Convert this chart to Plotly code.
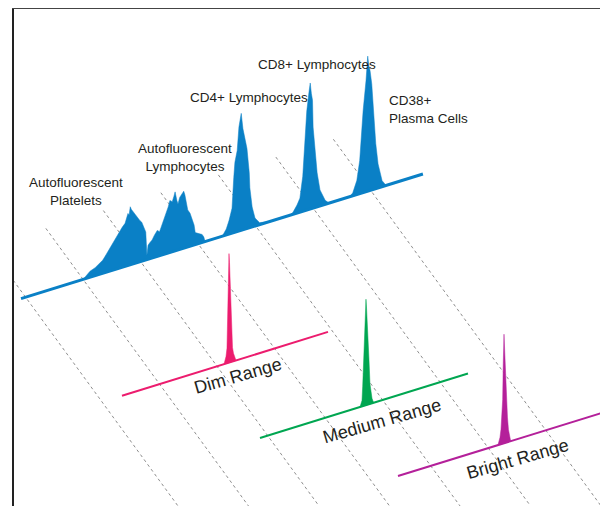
import plotly.graph_objects as go

# ---------------- data (channel positions, relative counts) ----------------
# channels: 100 channels per guide-line interval; counts: relative event counts
BLUE_CH = [100, 105, 112, 121, 129, 134, 138, 143, 147, 151, 155, 160, 164, 168, 173, 176, 178, 180, 182, 184, 185, 188,
           190, 193, 195, 199, 202, 204, 206, 208, 209, 211,
           213, 216, 220, 224, 229, 233, 237, 241, 244, 248, 251, 255, 258, 260, 263, 265, 268, 272, 275, 277, 280,
           282, 286, 289, 293, 295, 298, 303, 307, 310, 312,
           342, 346, 349, 354, 359, 362, 364, 368, 371, 375, 378, 382, 385, 389, 390, 394, 399, 407, 425,
           460, 465, 472, 477, 482, 486, 489, 493, 495, 497, 499, 500, 503, 507, 512, 521, 528,
           564, 569, 576, 581, 587, 592, 595, 597, 599, 602, 606, 609, 613, 620, 627]
BLUE_COUNTS = [0, 3, 6, 8, 11, 13, 16, 20, 23, 27, 30, 33, 36, 40, 43, 48, 52, 50, 58, 55, 54, 51,
               50, 46, 44, 41, 39, 36, 33, 31, 28, 4,
               14, 16, 18, 22, 26, 24, 30, 34, 40, 46, 52, 50, 55, 59, 50, 46, 52, 55, 57, 53, 45,
               37, 33, 28, 20, 12, 11, 10, 8, 5, 0,
               0, 3, 6, 14, 25, 55, 70, 81, 104, 117, 101, 89, 80, 55, 40, 20, 8, 2, 0,
               0, 2, 8, 14, 35, 70, 99, 118, 126, 115, 108, 81, 57, 34, 16, 4, 0,
               0, 3, 14, 33, 82, 111, 135, 125, 120, 106, 74, 45, 24, 6, 0]

DIM_CH = [211.8, 213.5, 215.3, 217.0, 218.2, 219.6, 220.5, 221.4, 223.5, 224.9, 226.6, 228.3, 230.1, 231.8, 232.7]
DIM_COUNTS = [0, 3, 7, 15, 60, 100, 109, 100, 60, 25, 14, 8, 4, 1.5, 0]

MED_CH = [360.5, 362.2, 364.0, 365.2, 367.1, 368.5, 370.1, 370.9, 371.8, 373.5, 374.9, 376.1, 377.9, 379.6, 381.4, 383.1, 384.8]
MED_COUNTS = [0, 2, 6, 20, 50, 80, 100, 106, 98, 80, 66, 45, 20, 10, 5, 2, 0]

BRIGHT_CH = [516.8, 518.6, 520.3, 522.1, 523.8, 525.0, 526.0, 527.3, 528.3, 529.9, 531.9, 533.3, 535.1, 536.8, 538.6, 539.4]
BRIGHT_COUNTS = [0, 3, 7, 15, 30, 44, 80, 109, 95, 70, 44, 25, 12, 5, 1, 0]

GUIDE_CH = [0, 100, 200, 300, 400, 500, 600]

POP_LABELS = ["Autofluorescent<br>Platelets", "Autofluorescent<br>Lymphocytes", "CD4+ Lymphocytes",
              "CD8+ Lymphocytes", "CD38+<br>Plasma Cells"]
RANGE_LABELS = ["Dim Range", "Medium Range", "Bright Range"]

# ---------------- layout / geometry (page pixel units) ----------------
CH_DX = 0.575          # horizontal pixels per channel
SLOPE = -0.31          # baseline slope
GUIDE_DIR = (1.0, 1.37)

BLUE = "#0a80c6"
PINK = "#ec1c6e"
GREEN = "#00a651"
PURPLE = "#b4209a"
GUIDE = "#8e8e8e"
TEXT = "#231f20"

panels = {
    "blue":   dict(origin=(25.6, 297.2), span=(-8, 691), color=BLUE, lw=3),
    "dim":    dict(origin=(102.2, 401.9), span=(34.4, 392.7), color=PINK, lw=2),
    "medium": dict(origin=(152.7, 471.3), span=(186.6, 548.3), color=GREEN, lw=2),
    "bright": dict(origin=(200.8, 537.2), span=(342.9, 706.4), color=PURPLE, lw=2),
}


def to_screen(panel, ch, h=0.0):
    ox, oy = panels[panel]["origin"]
    x = ox + ch * CH_DX
    y = oy + ch * CH_DX * SLOPE - h
    return x, y


fig = go.Figure()

# guide (dashed) lines
for ch in GUIDE_CH:
    bx, by = to_screen("blue", ch)
    t0, t1 = -51.0 / GUIDE_DIR[1], 600.0 / GUIDE_DIR[1]
    fig.add_trace(go.Scatter(
        x=[bx + t0 * GUIDE_DIR[0], bx + t1 * GUIDE_DIR[0]],
        y=[by + t0 * GUIDE_DIR[1], by + t1 * GUIDE_DIR[1]],
        mode="lines", line=dict(color=GUIDE, width=1, dash="3px,3px"),
        hoverinfo="skip", showlegend=False))


def add_hist(panel, chs, counts):
    xs, ys = [], []
    for c, n in zip(chs, counts):
        x, y = to_screen(panel, c, n)
        xs.append(x)
        ys.append(y)
    for c in (chs[-1], chs[0]):
        x, y = to_screen(panel, c, 0)
        xs.append(x)
        ys.append(y)
    fig.add_trace(go.Scatter(x=xs, y=ys, mode="lines", fill="toself",
                             fillcolor=panels[panel]["color"],
                             line=dict(color=panels[panel]["color"], width=0.5),
                             hoverinfo="skip", showlegend=False))


add_hist("blue", BLUE_CH, BLUE_COUNTS)
add_hist("dim", DIM_CH, DIM_COUNTS)
add_hist("medium", MED_CH, MED_COUNTS)
add_hist("bright", BRIGHT_CH, BRIGHT_COUNTS)

# baselines
for name, p in panels.items():
    x0, y0 = to_screen(name, p["span"][0])
    x1, y1 = to_screen(name, p["span"][1])
    fig.add_trace(go.Scatter(x=[x0, x1], y=[y0, y1], mode="lines",
                             line=dict(color=p["color"], width=p["lw"]),
                             hoverinfo="skip", showlegend=False))

regular = "Liberation Sans, Arial, sans-serif"

pop_pos = [(76, 191.5, "center"), (185, 157.5, "center"), (249, 97, "center"),
           (316.5, 64, "center"), (387, 109.5, "left")]
for label, (x, y, al) in zip(POP_LABELS, pop_pos):
    fig.add_annotation(x=x, y=y, xref="x", yref="y", text=label, showarrow=False,
                       xanchor=al, yanchor="middle", align=al,
                       font=dict(family=regular, size=13.5, color=TEXT))

range_pos = [(237.7, 376.4), (381.8, 421.1), (517.5, 458.7)]
for label, (x, y) in zip(RANGE_LABELS, range_pos):
    fig.add_annotation(x=x, y=y, xref="x", yref="y", text=label, showarrow=False,
                       xanchor="center", yanchor="middle", textangle=-16,
                       font=dict(family=regular, size=18, color=TEXT))

# page body has an 8px margin: the figure is placed so that axis units equal page pixels
fig.update_layout(
    width=600, height=498,
    margin=dict(l=6, r=0, t=1, b=0),
    paper_bgcolor="white", plot_bgcolor="white",
    xaxis=dict(range=[14, 608], showgrid=False, zeroline=False, showticklabels=False, ticks="",
               side="top", showline=True, linecolor="#444444", linewidth=2, fixedrange=True),
    yaxis=dict(range=[506, 9], showgrid=False, zeroline=False, showticklabels=False, ticks="",
               showline=True, linecolor="#222222", linewidth=2, fixedrange=True),
)

fig.write_html("out.html")
